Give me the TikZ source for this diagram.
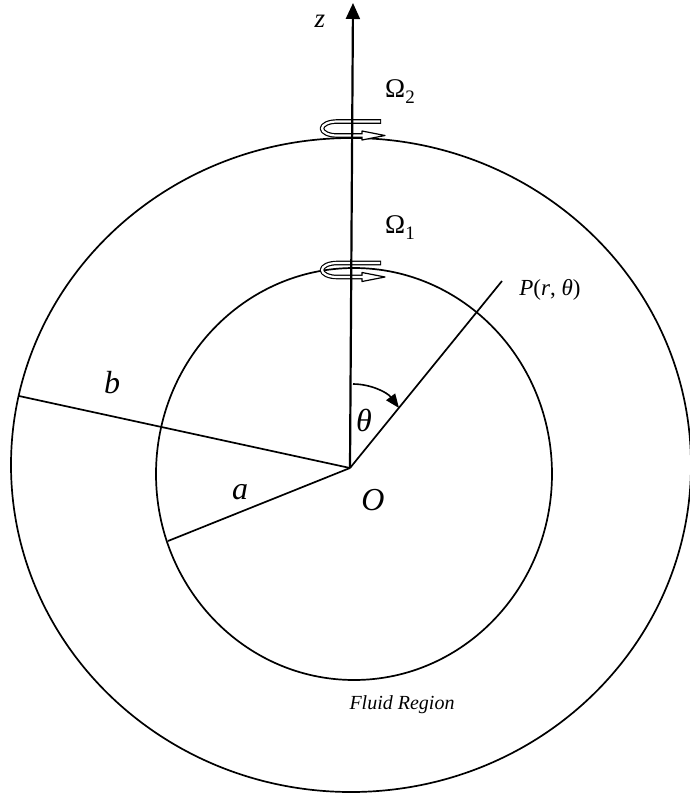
\documentclass[tikz,border=0pt]{standalone}
\usepackage{fontspec}
\setmainfont{Liberation Serif}
\usetikzlibrary{arrows.meta}
\tikzset{
  ring/.style={line width=1.7pt},
  ray/.style={line width=1.7pt},
  lab/.style={inner sep=0pt, font=\fontsize{32}{36}\selectfont\itshape},
  mlab/.style={inner sep=0pt, font=\fontsize{27}{30}\selectfont},
}
\newcommand\spinpath{(381,0) -- (337,0) arc[start angle=90,end angle=270,x radius=15pt,y radius=7pt] -- (364,14)}
\newcommand\subx[1]{\raisebox{-0.22em}{\fontsize{19}{20}\selectfont #1}}
\begin{document}
\begin{tikzpicture}[x=1pt,y=-1pt,line join=round]
\useasboundingbox (0,0) rectangle (689,796);
\coordinate (O) at (350,468);
\coordinate (Ztip) at (353,3);
\coordinate (B) at (19,396);
\coordinate (A) at (168,541);
\coordinate (P) at (502,281);
\coordinate (Th1) at (353,384);
\coordinate (Th2) at (399,408);
% circles
\draw[ring] (351,465) ellipse [x radius=340pt, y radius=327pt];
\draw[ring] (354,474) ellipse [x radius=198pt, y radius=206pt];
% radii
\draw[ray] (O) -- (B);
\draw[ray] (O) -- (A);
\draw[ray] (O) -- (P);
% rotation arrows
\foreach \yy in {121.5,263} {
\begin{scope}[shift={(0,\yy)}]
  \draw[line width=4.6pt] \spinpath;
  \draw[line width=1.2pt, fill=white] (362,9.5) -- (385,14) -- (362,18.5) -- cycle;
  \draw[white, line width=2.2pt] (380,0) -- (337,0) arc[start angle=90,end angle=270,x radius=15pt,y radius=7pt] -- (365,14);
\end{scope}
}
% z axis
\draw[line width=2.2pt, -{Triangle[length=16pt,width=14pt]}] (O) -- (Ztip);
% theta arc
\draw[line width=1.6pt, -{Triangle[length=14pt,width=11pt]}] (Th1) .. controls (370,384) and (387,392) .. (Th2);
% labels
\node[mlab] (zl) at (320,21) {\textit{z}};
\node[mlab] (w2) at (400,92) {Ω\subx{2}};
\node[mlab] (w1) at (400,228) {Ω\subx{1}};
\node[mlab, font=\fontsize{23}{26}\selectfont] (pl) at (550,290) {\textit{P}(\textit{r}, \textit{θ})};
\node[lab] (bl) at (112,383) {b};
\node[lab] (al) at (240,492) {a};
\node[lab] (tl) at (364,420) {θ};
\node[lab] (ol) at (373,500) {O};
\node[inner sep=0pt, font=\fontsize{20}{24}\selectfont\itshape] (fr) at (402,705) {Fluid Region};
\end{tikzpicture}
\end{document}
